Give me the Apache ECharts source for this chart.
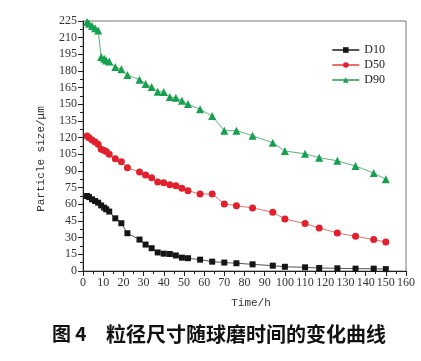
<!DOCTYPE html>
<html><head><meta charset="utf-8">
<script src="https://cdn.jsdelivr.net/npm/echarts@6/dist/echarts.min.js"></script>
<style>html,body{margin:0;padding:0;background:#fff}#c{width:421px;height:361px}</style>
</head><body><div id="c"></div>
<script>
const times = [2, 3, 4.5, 6, 7.5, 9, 10.5, 11.5, 13, 16, 19, 22, 28, 31, 34, 37, 40, 43, 46, 49, 52, 58, 64, 70, 76, 84, 94, 100, 110, 117, 126, 135, 144, 150];
const d10 = [67.5, 66.5, 64.5, 63, 61.5, 59, 57, 55.5, 53.5, 47.4, 43, 34, 28.3, 23.8, 20.5, 16.7, 15.6, 15.3, 14, 12, 11.5, 10.2, 8.4, 7.6, 7, 6, 4.8, 3.8, 3.3, 2.7, 2.4, 2.1, 2.1, 1.7];
const d50 = [121.5, 120, 118, 116, 114, 109.5, 108.5, 107.5, 105, 101, 98.4, 93, 89.1, 86.4, 84, 80.1, 79.5, 77.7, 76.8, 74.4, 72.3, 69.3, 69.3, 60.4, 58.8, 56.8, 52.9, 46.8, 42.7, 38.8, 34.2, 31.2, 28.3, 26];
const d90 = [224, 222.5, 220.5, 218.5, 216.5, 192.5, 191, 189.5, 188.5, 183.7, 181.6, 176.3, 172.2, 168.2, 165.7, 161.3, 161.2, 156.5, 156, 153.2, 150.2, 145.5, 139.5, 126.3, 126.3, 121.8, 115.4, 108, 105.5, 102, 99.2, 94.5, 88.2, 82.5];
const seriesNames = ['D10', 'D50', 'D90'];
const xTitle = 'Time/h';
const yTitle = 'Particle size/\u03bcm';
const caption1 = '图 4';
const caption2 = '粒径尺寸随球磨时间的变化曲线';

const pair = arr => times.map((t, i) => [t, arr[i]]);
const serif = 'Liberation Serif';
const chart = echarts.init(document.getElementById('c'), null, {renderer: 'canvas'});
const mk = (name, data, color, lineColor, symbol, size) => ({
  name, type: 'line', data: pair(data), symbol, symbolSize: size,
  itemStyle: {color: color}, lineStyle: {color: lineColor, width: 1},
  animation: false
});
chart.setOption({
  animation: false,
  grid: {left: 83, right: 15, top: 21, bottom: 90, show: true, borderColor: '#777', borderWidth: 1},
  legend: {
    right: 31, top: 39, orient: 'vertical', itemGap: 3, itemWidth: 27, itemHeight: 7,
    textStyle: {fontFamily: serif, fontSize: 12, color: '#222'},
    data: seriesNames
  },
  xAxis: {
    type: 'value', min: 0, max: 160, interval: 10,
    axisLine: {lineStyle: {color: '#222'}},
    axisTick: {inside: false, length: 5, lineStyle: {color: '#222'}},
    minorTick: {show: true, splitNumber: 2, length: 3, lineStyle: {color: '#222'}},
    axisLabel: {fontFamily: serif, fontSize: 12, color: '#333', margin: 6},
    splitLine: {show: false}
  },
  yAxis: {
    type: 'value', min: 0, max: 225, interval: 15,
    axisLine: {lineStyle: {color: '#222'}},
    axisTick: {inside: false, length: 5, lineStyle: {color: '#222'}},
    minorTick: {show: true, splitNumber: 2, length: 3, lineStyle: {color: '#222'}},
    axisLabel: {fontFamily: serif, fontSize: 12, color: '#333', margin: 6},
    splitLine: {show: false}
  },
  graphic: [
    {type: 'text', x: 251, y: 303, style: {text: xTitle, font: '11px "Liberation Mono"', fill: '#333', align: 'center', verticalAlign: 'middle'}},
    {type: 'text', x: 41, y: 159, rotation: Math.PI / 2, style: {text: yTitle, font: '11px "Liberation Mono"', fill: '#333', align: 'center', verticalAlign: 'middle'}},
    {type: 'text', left: 52, top: 324, style: {text: caption1, font: 'bold 19px "Noto Sans CJK SC"', fill: '#111'}},
    {type: 'text', left: 106, top: 324, style: {text: caption2, font: 'bold 20px "Noto Sans CJK SC"', fill: '#111'}}
  ],
  series: [
    mk(seriesNames[0], d10, '#151515', '#555', 'rect', 6),
    mk(seriesNames[1], d50, '#e0202c', '#e8706a', 'circle', 7),
    mk(seriesNames[2], d90, '#17a050', '#5ab57a', 'triangle', 8)
  ]
});
</script></body></html>
